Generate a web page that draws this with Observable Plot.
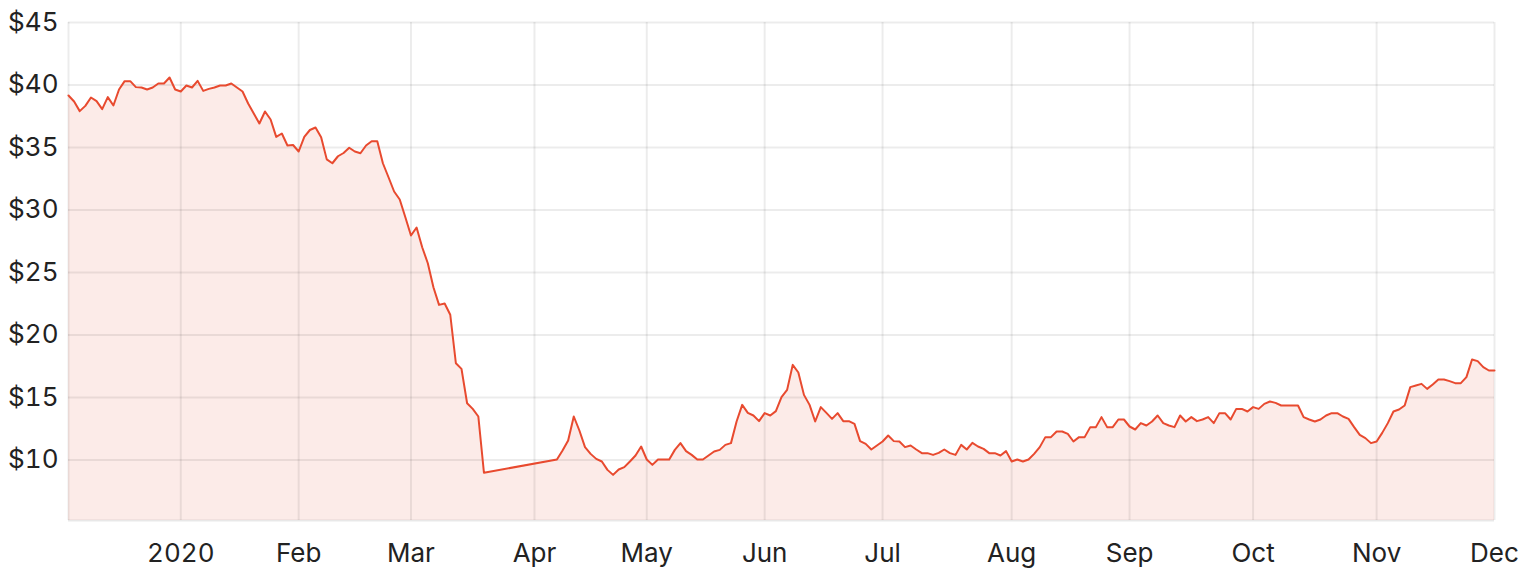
<!DOCTYPE html>
<html>
<head>
<meta charset="utf-8">
<script src="https://cdn.jsdelivr.net/npm/d3@7"></script>
<script src="https://cdn.jsdelivr.net/npm/@observablehq/plot@0.6"></script>
<style>
  html, body { margin: 0; padding: 0; background: #fff; }
  #chart svg { display: block; }
</style>
</head>
<body>
<div id="chart"></div>
<script>
// ASX trading calendar (x axis is spaced by trading day)
const firstDay = "2019-12-02";
const lastDay = "2020-12-01";
const holidays = ["2019-12-25", "2019-12-26", "2020-01-01", "2020-01-27", "2020-04-10", "2020-04-13", "2020-06-08"];

// Closing prices per trading day (null = trading halt)
const pricesDec19 = [39.16, 38.68, 37.91, 38.33, 39.0, 38.71, 38.07, 39.03, 38.36, 39.64, 40.31, 40.31, 39.83, 39.8, 39.64, 39.8, 40.12, 40.12, 40.6, 39.64];
const pricesJan = [39.48, 39.96, 39.8, 40.33, 39.53, 39.69, 39.8, 39.96, 39.96, 40.12, 39.8, 39.48, 38.52, 37.72, 36.92, 37.88, 37.24, 35.85, 36.12, 35.16, 35.2];
const pricesFeb = [34.68, 35.85, 36.4, 36.6, 35.82, 34.05, 33.74, 34.3, 34.56, 34.98, 34.68, 34.54, 35.16, 35.5, 35.5, 33.74, 32.62, 31.48, 30.84, 29.42];
const pricesMar = [27.96, 28.6, 27.02, 25.74, 23.82, 22.41, 22.52, 21.62, 17.74, 17.29, 14.54, 14.09, 13.48, 8.98, null, null, null, null, null, null, null, null];
const pricesApr = [null, null, null, null, 10.04, 10.76, 11.56, 13.48, 12.36, 11.03, 10.49, 10.09, 9.88, 9.21, 8.81, 9.24, 9.43, 9.88, 10.36, 11.08];
const pricesMay = [10.04, 9.61, 10.04, 10.04, 10.04, 10.81, 11.35, 10.71, 10.41, 10.04, 10.04, 10.36, 10.68, 10.81, 11.21, 11.35, 13.08, 14.41, 13.77, 13.56, 13.11];
const pricesJun = [13.75, 13.56, 13.91, 15.03, 15.61, 17.61, 17.0, 15.21, 14.41, 13.08, 14.23, 13.77, 13.29, 13.75, 13.11, 13.11, 12.89, 11.51, 11.29, 10.84, 11.16];
const pricesJul = [11.48, 11.96, 11.51, 11.48, 11.03, 11.16, 10.84, 10.55, 10.55, 10.41, 10.57, 10.84, 10.55, 10.41, 11.21, 10.84, 11.37, 11.08, 10.89, 10.55, 10.55, 10.36, 10.71];
const pricesAug = [9.88, 10.04, 9.88, 10.04, 10.49, 11.03, 11.83, 11.83, 12.28, 12.28, 12.09, 11.48, 11.83, 11.83, 12.63, 12.63, 13.43, 12.63, 12.63, 13.24, 13.24];
const pricesSep = [12.68, 12.44, 12.95, 12.76, 13.08, 13.56, 12.95, 12.76, 12.63, 13.56, 13.08, 13.43, 13.11, 13.24, 13.43, 12.95, 13.75, 13.75, 13.24, 14.09, 14.09, 13.88];
const pricesOct = [14.23, 14.09, 14.49, 14.68, 14.57, 14.36, 14.36, 14.36, 14.36, 13.43, 13.24, 13.08, 13.24, 13.56, 13.75, 13.75, 13.48, 13.29, 12.63, 12.01, 11.75, 11.35];
const pricesNov = [11.48, 12.17, 12.95, 13.88, 14.04, 14.36, 15.83, 15.96, 16.09, 15.69, 16.04, 16.44, 16.44, 16.31, 16.15, 16.15, 16.63, 18.04, 17.91, 17.43, 17.16];
const pricesDec20 = [17.16];

const monthLabels = ["2020", "Feb", "Mar", "Apr", "May", "Jun", "Jul", "Aug", "Sep", "Oct", "Nov", "Dec"];
const yTicks = [10, 15, 20, 25, 30, 35, 40, 45];
const yMin = 5.16, yMax = 45;

const closePrices = [].concat(pricesDec19, pricesJan, pricesFeb, pricesMar, pricesApr, pricesMay,
  pricesJun, pricesJul, pricesAug, pricesSep, pricesOct, pricesNov, pricesDec20);

const parse = d3.utcParse("%Y-%m-%d");
const fmt = d3.utcFormat("%Y-%m-%d");
const tradingDays = d3.utcDays(parse(firstDay), d3.utcDay.offset(parse(lastDay), 1))
  .filter(d => d.getUTCDay() !== 0 && d.getUTCDay() !== 6 && !holidays.includes(fmt(d)));

const data = tradingDays.map((date, i) => ({i, date, price: closePrices[i]}))
  .filter(d => d.price != null);

const monthTicks = monthLabels.map((_, m) =>
  tradingDays.findIndex(d => d.getUTCFullYear() === 2020 && d.getUTCMonth() === m));
const labelOf = new Map(monthTicks.map((t, k) => [t, monthLabels[k]]));

const lineColor = "#e84a2f";

const chart = Plot.plot({
  width: 1528,
  height: 574,
  marginLeft: 68,
  marginRight: 34,
  marginTop: 22,
  marginBottom: 54,
  style: {fontFamily: "Inter, 'Open Sans', sans-serif", fontSize: "26px", color: "#222", background: "#fff", overflow: "visible"},
  x: {type: "linear", domain: [0, tradingDays.length - 1]},
  y: {domain: [yMin, yMax]},
  marks: [
    Plot.areaY(data, {x: "i", y1: yMin, y2: "price", fill: lineColor, fillOpacity: 0.11}),
    Plot.gridY(yTicks, {stroke: "#000", strokeOpacity: 0.075, strokeWidth: 2}),
    Plot.gridX([0, ...monthTicks], {stroke: "#000", strokeOpacity: 0.075, strokeWidth: 2}),
    Plot.ruleY([yMin], {stroke: "#000", strokeOpacity: 0.09, strokeWidth: 2}),
    Plot.lineY(data, {x: "i", y: "price", stroke: lineColor, strokeWidth: 2}),
    Plot.axisY(yTicks, {tickSize: 0, tickPadding: 10, tickFormat: d => "$" + d, label: null, fontSize: 26}),
    Plot.axisX(monthTicks, {tickSize: 0, tickPadding: 23, tickFormat: t => labelOf.get(t), label: null, fontSize: 26})
  ]
});
document.getElementById("chart").append(chart);
</script>
</body>
</html>
